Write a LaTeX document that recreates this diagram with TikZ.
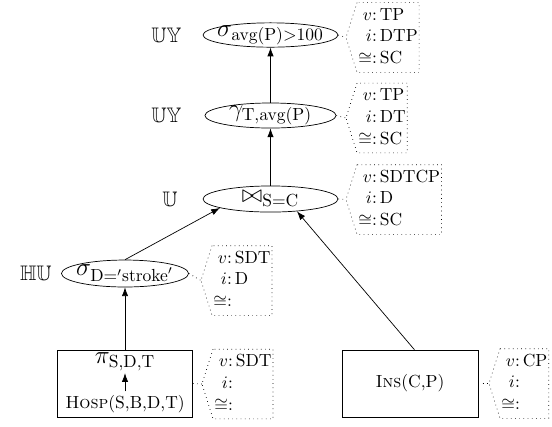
\documentclass[tikz,border=0pt]{standalone}
\usepackage{amssymb}
\usetikzlibrary{shapes.geometric,arrows.meta}
\newcommand\annotext[3]{\renewcommand\arraystretch{1.04}\begin{tabular}{@{}r@{:\,}l@{}}$v$&#1\\$i$&#2\\$\cong$&#3\end{tabular}}
\tikzset{
 opnode/.style={ellipse,draw,inner sep=0pt},
 oplabel/.style={font=\Large},
 relbox/.style={draw,rectangle,inner sep=0pt,minimum height=38.3pt},
 anno/.style={inner xsep=0.6pt,inner ysep=1pt,anchor=west},
 annoline/.style={dotted},
 flow/.style={-{Latex[length=5pt,width=3.6pt]}},
 tag/.style={anchor=east,inner sep=0pt,font=\large}
}
\begin{document}
\begin{tikzpicture}[x=0.5714pt,y=-0.5714pt]
\useasboundingbox (0,0) rectangle (552,426);
% operator ellipses
\node[opnode,minimum width=77.1pt,minimum height=13.9pt,label={[oplabel]center:{$\sigma_{\mathrm{avg(P)}>100}$}}] (e1) at (270.5,35) {};
\node[opnode,minimum width=74.9pt,minimum height=14.3pt,label={[oplabel]center:{$\gamma_{\mathrm{T,avg(P)}}$}}] (e2) at (270.5,115.5) {};
\node[opnode,minimum width=77.1pt,minimum height=14.9pt,label={[oplabel]center:{$\bowtie_{\mathrm{S=C}}$}}] (e3) at (270.5,199) {};
\node[opnode,minimum width=72.6pt,minimum height=15.4pt,label={[oplabel]center:{$\sigma_{\mathrm{D}={}'\mathrm{stroke}'}$}}] (e4) at (125,273.5) {};
% relation boxes
\node[relbox,minimum width=77.1pt] (b1) at (125,383.5) {};
\node[oplabel,inner sep=1pt] (pi) at (125,362) {$\pi_{\mathrm{S,D,T}}$};
\node[inner sep=2pt] (hosp) at (125,404) {\textsc{Hosp}(S,B,D,T)};
\node[relbox,minimum width=77.7pt] (b2) at (410,383.5) {\textsc{Ins}(C,P)};
% tags
\node[tag] (t1) at (182,35) {$\mathbb{UY}$};
\node[tag] (t2) at (182,115.5) {$\mathbb{UY}$};
\node[tag] (t3) at (178,199) {$\mathbb{U}$};
\node[tag] (t4) at (52,273.5) {$\mathbb{HU}$};
% flow arrows
\draw[flow] (e2) -- (e1);
\draw[flow] (e3) -- (e2);
\draw[flow] (e4.north) -- (e3.190);
\draw[flow] ([xshift=2.5pt]b2.north) -- (e3.-25);
\draw[flow] (b1) -- (e4);
\draw[flow] (hosp) -- (pi);
% annotations
\node[anno] (a1) at (357,37.5) {\annotext{TP}{DTP}{SC}};
\node[anno] (a2) at (357,118) {\annotext{TP}{DT}{SC}};
\node[anno] (a3) at (357,199.5) {\annotext{SDTCP}{D}{SC}};
\node[anno] (a4) at (212,280.5) {\annotext{SDT}{D}{}};
\node[anno] (a5) at (213,384) {\annotext{SDT}{}{}};
\node[anno] (a6) at (500,383.5) {\annotext{CP}{}{}};
\foreach \a/\s in {a1/e1,a2/e2,a3/e3,a4/e4,a5/b1,a6/b2}{
  \coordinate (p\a) at ([xshift=-6.3pt]\a.west);
  \draw[annoline] (\a.north west) -- (p\a) -- (\a.south west) -- (\a.south east) -- (\a.north east) -- cycle;
  \draw[annoline] (\s.east) -- (p\a);
}
\end{tikzpicture}
\end{document}
